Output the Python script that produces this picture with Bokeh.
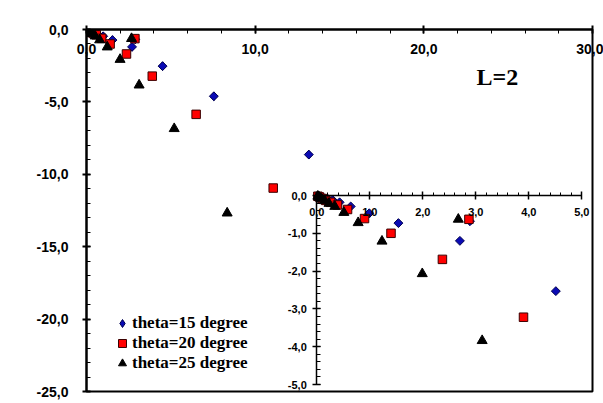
import math
from bokeh.plotting import figure
from bokeh.models import (Range1d, LinearAxis, SingleIntervalTicker, FixedTicker,
                          CustomJSTickFormatter, Label, Legend, LegendItem, ColumnDataSource)
from bokeh.core.properties import field
from bokeh.embed import file_html
from bokeh.resources import INLINE

# ---- data (ReE, ImE in MeV) ----
re_15 = [0.02, 0.06, 0.12, 0.20, 0.30, 0.43, 0.64, 0.99, 1.54, 2.70, 2.89, 4.51, 7.55, 13.18]
im_15 = [-0.01, -0.03, -0.05, -0.08, -0.12, -0.18, -0.29, -0.47, -0.73, -1.20, -0.68, -2.53, -4.61, -8.64]

re_20 = [0.02, 0.05, 0.10, 0.17, 0.26, 0.39, 0.58, 0.90, 1.40, 2.37, 2.87, 3.90, 6.50, 11.07]
im_20 = [-0.02, -0.04, -0.08, -0.13, -0.18, -0.25, -0.37, -0.61, -1.00, -1.69, -0.63, -3.22, -5.86, -10.95]

re_25 = [0.02, 0.05, 0.09, 0.15, 0.23, 0.34, 0.51, 0.78, 1.23, 1.99, 2.67, 3.12, 5.20, 8.34]
im_25 = [-0.02, -0.05, -0.09, -0.14, -0.21, -0.29, -0.45, -0.72, -1.21, -2.07, -0.63, -3.84, -6.85, -12.68]

series_labels = ["theta=15 degree", "theta=20 degree", "theta=25 degree"]
inset_x_ticks = [0, 1, 2, 3, 4, 5]
inset_y_ticks = [0, -1, -2, -3, -4, -5]

# ---- layout geometry ----
W, H = 603, 403
FL, FR, FT, FB = 86, 592, 29, 391          # main frame in pixels
XMAX, YMIN = 30.0, -25.0
IX0, IXS = 316.3, 53.0                      # inset: pixel of ReE=0, px per MeV
IY0, IYS = 195.0, 37.8                      # inset: pixel of ImE=0, px per MeV

def to_main_x(v):
    return (IX0 + IXS * v - FL) * XMAX / (FR - FL)

def to_main_y(v):
    return -((IY0 - IYS * v) - FT) * (-YMIN) / (FB - FT)

p = figure(width=W, height=H, output_backend="svg", toolbar_location=None,
           x_range=Range1d(0, XMAX), y_range=Range1d(YMIN, 0),
           x_axis_location=None, y_axis_location=None,
           min_border_left=FL, min_border_right=W - FR,
           min_border_top=FT, min_border_bottom=H - FB)
p.grid.visible = False
p.outline_line_color = "black"
p.outline_line_width = 2

fmt_main = CustomJSTickFormatter(code="return tick.toFixed(1).replace('.', ',');")
geo = dict(fl=FL, fr=FR, ft=FT, fb=FB, xmax=XMAX, ymin=YMIN, ix0=IX0, ixs=IXS, iy0=IY0, iys=IYS)
fmt_inset_x = CustomJSTickFormatter(args=geo, code="""
const px = fl + tick * (fr - fl) / xmax;
const v = Math.round((px - ix0) / ixs * 10) / 10;
return v.toFixed(1).replace('.', ',');
""")
fmt_inset_y = CustomJSTickFormatter(args=geo, code="""
const py = ft - tick * (fb - ft) / (-ymin);
const v = Math.round((iy0 - py) / iys * 10) / 10;
return v.toFixed(1).replace('.', ',');
""")

def style_axis(ax, fmt, size, tin, tout, mtin, mtout, standoff, width):
    ax.formatter = fmt
    ax.major_label_text_font = "Liberation Sans"
    ax.major_label_text_font_style = "bold"
    ax.major_label_text_font_size = size
    ax.major_label_text_color = "black"
    ax.axis_line_color = "black"
    ax.axis_line_width = width
    ax.major_tick_line_color = "black"
    ax.minor_tick_line_color = "black"
    ax.major_tick_line_width = width
    ax.minor_tick_line_width = 1
    ax.major_tick_in = tin
    ax.major_tick_out = tout
    ax.minor_tick_in = mtin
    ax.minor_tick_out = mtout
    ax.major_label_standoff = standoff

# main x axis along the top edge (ImE = 0), labels pushed below the line
mx = LinearAxis(ticker=SingleIntervalTicker(interval=10, num_minor_ticks=5))
style_axis(mx, fmt_main, "14px", 4, 4, 4, 0, -28, 2)
p.add_layout(mx, "above")

# main y axis
my = LinearAxis(ticker=SingleIntervalTicker(interval=5, num_minor_ticks=5))
style_axis(my, fmt_main, "14px", 4, 4, 4, 0, 14, 2)
p.add_layout(my, "left")

# inset axes (0..5 MeV, 0..-5 MeV) placed inside the main frame
ix_ticks = FixedTicker(ticks=[to_main_x(v) for v in inset_x_ticks],
                       minor_ticks=[to_main_x(i * 0.2) for i in range(26)])
ix = LinearAxis(ticker=ix_ticks, fixed_location=to_main_y(0),
                bounds=(to_main_x(inset_x_ticks[0]), to_main_x(inset_x_ticks[-1])))
style_axis(ix, fmt_inset_x, "11px", 4, 4, 3, 0, 8, 1.5)
p.add_layout(ix, "below")

iy_ticks = FixedTicker(ticks=[to_main_y(v) for v in inset_y_ticks],
                       minor_ticks=[to_main_y(-i * 0.2) for i in range(26)])
iy = LinearAxis(ticker=iy_ticks, fixed_location=to_main_x(0),
                bounds=(to_main_y(inset_y_ticks[-1]), to_main_y(inset_y_ticks[0])))
style_axis(iy, fmt_inset_y, "11px", 4, 4, 4, 0, 6, 1.5)
p.add_layout(iy, "left")

# ---- markers: everything in ONE scatter renderer ----
styles = [
    dict(mk="square", ang=math.pi / 4, sz=6.3, fc="#0a0ab4", lc="#000050"),
    dict(mk="square", ang=0.0, sz=8.5, fc="#ff0000", lc="#3a0000"),
    dict(mk="triangle", ang=0.0, sz=10, fc="black", lc="black"),
]
data = [(re_15, im_15), (re_20, im_20), (re_25, im_25)]
cols = {k: [] for k in ("x", "y", "mk", "ang", "sz", "fc", "lc")}

def add_points(xs, ys, st):
    for x, y in zip(xs, ys):
        cols["x"].append(x)
        cols["y"].append(y)
        for k in ("mk", "ang", "sz", "fc", "lc"):
            cols[k].append(st[k])

# diamond key for the legend (hidden beneath the rotated squares of the same points)
add_points(re_15, im_15, dict(mk="diamond", ang=0.0, sz=8.5, fc="#0a0ab4", lc="#000050"))
legend_index = []
for (xs, ys), st in zip(data, styles):
    legend_index.append(len(cols["x"]))
    add_points(xs, ys, st)
legend_index[0] = 0

# same values drawn in the inset's coordinates (only those inside its 0..5 / 0..-5 window)
for (xs, ys), st in zip(data, styles):
    sel = [(x, y) for x, y in zip(xs, ys) if x <= 5 and y >= -5]
    add_points([to_main_x(x) for x, _ in sel], [to_main_y(y) for _, y in sel], st)

src = ColumnDataSource(cols)
r = p.scatter(x="x", y="y", source=src, marker=field("mk"), angle=field("ang"), size=field("sz"),
              fill_color=field("fc"), line_color=field("lc"), line_width=1)

legend = Legend(items=[LegendItem(label=l, renderers=[r], index=i)
                       for l, i in zip(series_labels, legend_index)],
                location=(26, 18), orientation="vertical",
                glyph_width=20, glyph_height=20, label_height=20, label_standoff=0,
                padding=0, spacing=0, margin=0,
                border_line_color=None, background_fill_alpha=0,
                label_text_font="Liberation Serif", label_text_font_style="bold",
                label_text_font_size="17px", label_text_color="black")
p.add_layout(legend, "center")

def px_to_main(px, py):
    return (px - FL) * XMAX / (FR - FL), -(py - FT) * (-YMIN) / (FB - FT)

def add_label(text, px, py, size):
    x, y = px_to_main(px, py)
    p.add_layout(Label(x=x, y=y, text=text, text_font="Liberation Serif",
                       text_font_style="bold", text_font_size=size,
                       text_baseline="middle", text_align="left", text_color="black"))

add_label("ReE  (MeV)", 475, 14, "17px")
add_label("ImE", 10, 65, "17px")
add_label("(MeV)", 10, 84, "17px")
add_label("L=2", 476, 76, "24px")

open("out.html", "w").write(file_html(p, INLINE))
